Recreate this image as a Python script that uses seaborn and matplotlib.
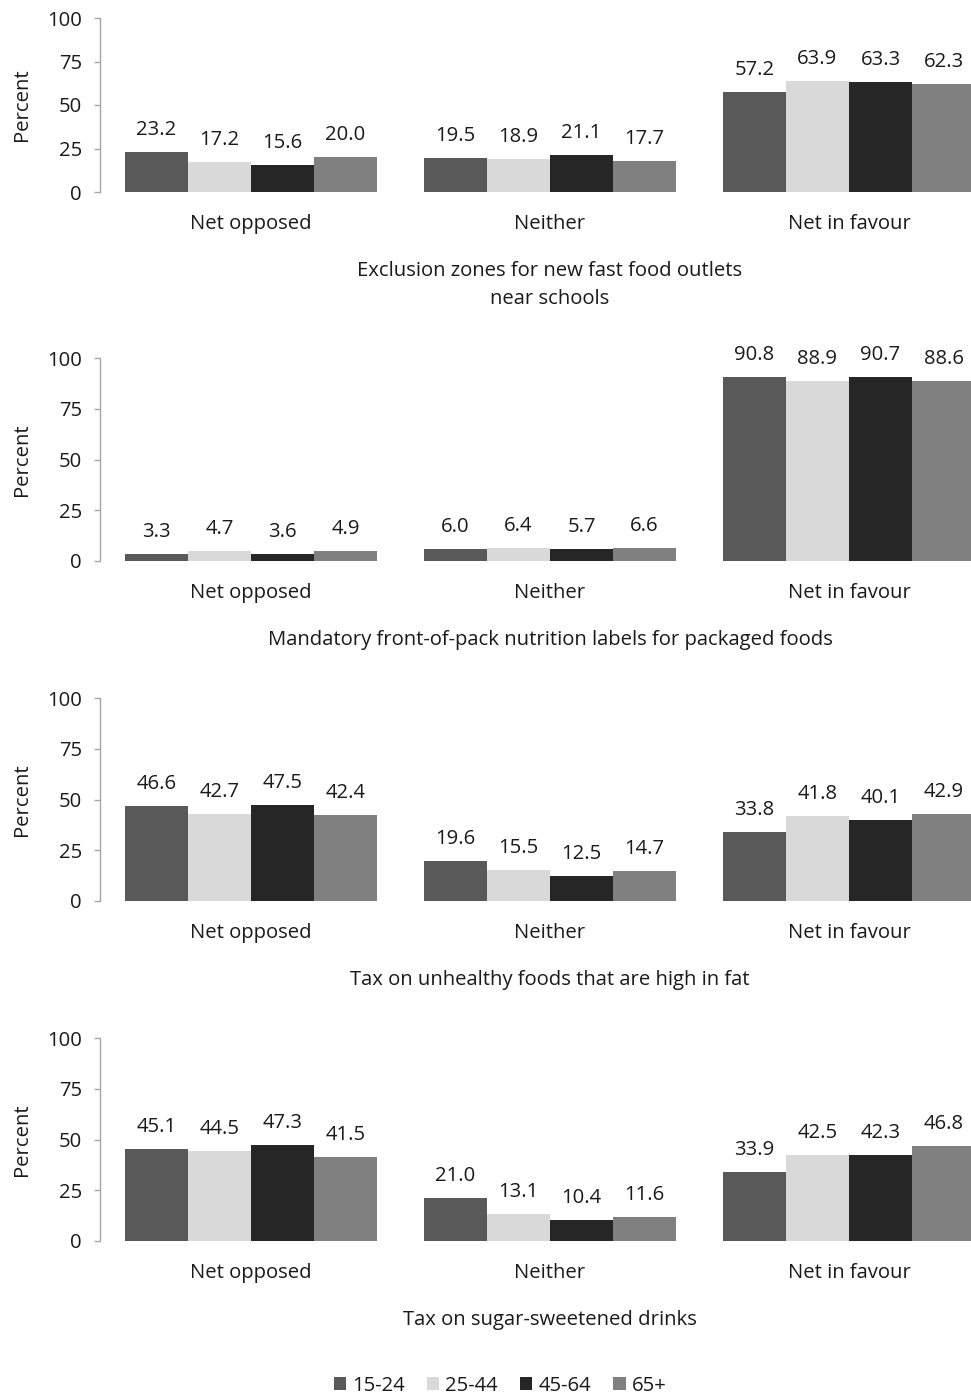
import matplotlib
matplotlib.use("Agg")
import matplotlib.pyplot as plt
import seaborn as sns
import pandas as pd
from matplotlib.patches import Patch

# Responses by age group for four food policy measures
responses = ["Net opposed", "Neither", "Net in favour"]
age_groups = ["15-24", "25-44", "45-64", "65+"]
colors = ["#595959", "#d9d9d9", "#262626", "#808080"]

policies = [
    "Exclusion zones for new fast food outlets\nnear schools",
    "Mandatory front-of-pack nutrition labels for packaged foods",
    "Tax on unhealthy foods that are high in fat",
    "Tax on sugar-sweetened drinks",
]

# values[response][age group]
exclusion_zones = [[23.2, 17.2, 15.6, 20.0],
                   [19.5, 18.9, 21.1, 17.7],
                   [57.2, 63.9, 63.3, 62.3]]
nutrition_labels = [[3.3, 4.7, 3.6, 4.9],
                    [6.0, 6.4, 5.7, 6.6],
                    [90.8, 88.9, 90.7, 88.6]]
fat_tax = [[46.6, 42.7, 47.5, 42.4],
           [19.6, 15.5, 12.5, 14.7],
           [33.8, 41.8, 40.1, 42.9]]
sugar_tax = [[45.1, 44.5, 47.3, 41.5],
             [21.0, 13.1, 10.4, 11.6],
             [33.9, 42.5, 42.3, 46.8]]

panel_values = [exclusion_zones, nutrition_labels, fat_tax, sugar_tax]

sns.set_theme(style="white")
plt.rcParams["font.family"] = ["Open Sans", "DejaVu Sans"]
FS = 14.6
TXT = "#1a1a1a"
AXC = "#a6a6a6"

W, H, DPI = 971, 1398, 100
fig = plt.figure(figsize=(W / DPI, H / DPI), dpi=DPI)

# axes extents in pixels: (y of 100, y of 0)
extents = [(18, 192), (358, 561), (698, 901), (1038, 1241)]
left_px, right_px = 100, 971

for vals, title, (ytop, ybot) in zip(panel_values, policies, extents):
    ax = fig.add_axes([left_px / W, 1 - ybot / H,
                       (right_px - left_px) / W, (ybot - ytop) / H])
    rows = []
    for r, resp in enumerate(responses):
        for a, age in enumerate(age_groups):
            rows.append({"response": resp, "age": age, "value": vals[r][a]})
    df = pd.DataFrame(rows)
    sns.barplot(data=df, x="response", y="value", hue="age",
                order=responses, hue_order=age_groups, palette=colors,
                width=0.843, gap=0, saturation=1, legend=False,
                edgecolor="none", linewidth=0, ax=ax)
    for cont in ax.containers:
        for bar in cont:
            h = bar.get_height()
            ax.annotate(f"{h:.1f}", xy=(bar.get_x() + bar.get_width() / 2, h),
                        xytext=(0, 12), textcoords="offset pixels",
                        ha="center", va="bottom", fontsize=FS, color=TXT)
    ax.set_xlim(-0.505, 2.408)
    ax.set_ylim(0, 100)
    ax.set_yticks([0, 25, 50, 75, 100])
    ax.set_xlabel("")
    ax.set_ylabel("Percent", fontsize=FS, color=TXT, labelpad=11)
    ax.tick_params(axis="y", length=4, width=1, color=AXC, labelsize=FS,
                   labelcolor=TXT, pad=9, left=True)
    ax.tick_params(axis="x", length=0, labelsize=FS, labelcolor=TXT, pad=16)
    for s in ["top", "right", "bottom"]:
        ax.spines[s].set_visible(False)
    ax.spines["left"].set_color(AXC)
    ax.spines["left"].set_linewidth(1)
    ax.annotate(title, xy=(1, 0), xycoords=ax.get_xaxis_transform(),
                xytext=(0, -69), textcoords="offset pixels",
                ha="center", va="top", fontsize=FS, color=TXT,
                linespacing=1.55)

handles = [Patch(facecolor=c, edgecolor="none", label=a)
           for c, a in zip(colors, age_groups)]
fig.legend(handles=handles, loc="center", bbox_to_anchor=(500 / W, 1 - 1386 / H),
           ncol=4, frameon=False, fontsize=FS, handlelength=0.6,
           handleheight=0.6, handletextpad=0.3, columnspacing=1.1,
           labelcolor=TXT)

fig.savefig("out.png", dpi=DPI, facecolor="white")
